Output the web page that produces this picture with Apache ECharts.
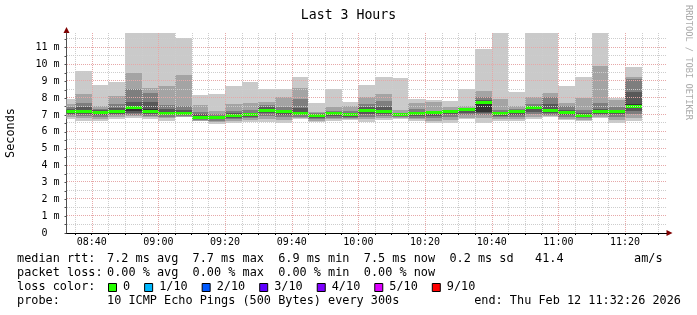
<!DOCTYPE html>
<html><head><meta charset="utf-8">
<script src="https://cdn.jsdelivr.net/npm/echarts@6/dist/echarts.min.js"></script>
<style>html,body{margin:0;padding:0;background:#fff}#c{width:697px;height:315px}</style>
</head><body><div id="c"></div>
<script>
// ---- data ----
const rangeStart = '08:32:26';
const rangeEnd = '11:32:26';
const slotStarts = ['08:30','08:35','08:40','08:45','08:50','08:55','09:00','09:05','09:10','09:15','09:20','09:25','09:30','09:35','09:40','09:45','09:50','09:55','10:00','10:05','10:10','10:15','10:20','10:25','10:30','10:35','10:40','10:45','10:50','10:55','11:00','11:05','11:10','11:15','11:20'];
// sorted ping RTTs per 5-min slot (ms)
const ping10 = [7.98,9.62,8.79,8.99,12.40,12.40,12.40,11.56,8.18,8.26,8.73,8.99,8.56,8.56,9.27,7.73,8.56,7.79,8.79,9.27,9.21,7.96,7.90,7.83,8.56,10.92,12.40,8.38,12.40,12.40,8.73,9.27,12.40,8.02,9.86];
const ping9  = [7.67,8.27,7.51,8.14,9.52,8.60,8.73,9.39,7.61,7.25,7.67,7.73,7.79,8.08,8.62,7.17,7.49,7.55,8.08,8.26,7.31,7.71,7.75,7.45,7.55,8.40,7.96,7.55,8.08,8.32,7.73,8.04,9.94,7.90,9.25];
const ping8  = [7.47,7.73,7.38,7.67,8.56,8.30,7.61,7.51,7.20,7.05,7.25,7.30,7.61,7.45,7.96,7.10,7.25,7.25,7.67,7.81,7.15,7.33,7.25,7.30,7.40,8.10,7.30,7.35,7.65,8.06,7.51,7.30,7.73,7.49,9.15];
const ping7  = [7.35,7.47,7.30,7.42,7.80,7.79,7.35,7.30,7.05,6.97,7.12,7.15,7.45,7.30,7.40,7.06,7.17,7.10,7.45,7.45,7.10,7.20,7.18,7.26,7.35,7.90,7.18,7.27,7.55,7.65,7.30,7.10,7.35,7.32,8.38];
const ping6  = [7.28,7.30,7.24,7.31,7.52,7.35,7.20,7.18,6.95,6.92,7.05,7.08,7.35,7.25,7.20,7.03,7.13,7.05,7.32,7.30,7.08,7.12,7.16,7.24,7.33,7.78,7.12,7.23,7.50,7.35,7.18,7.03,7.25,7.27,7.65];
const ping5  = [7.14,7.12,7.08,7.16,7.25,7.12,7.05,7.03,6.80,6.80,6.93,6.97,7.20,7.12,7.05,6.93,7.02,6.95,7.18,7.15,7.00,7.00,7.05,7.15,7.22,7.20,7.03,7.10,7.35,7.18,7.07,6.93,7.12,7.15,7.40];
const ping4  = [7.06,7.05,7.00,7.08,7.12,7.05,6.98,6.98,6.75,6.74,6.85,6.90,7.10,7.02,6.98,6.85,6.95,6.90,7.05,7.05,6.95,6.93,6.95,7.05,7.10,7.14,6.96,7.00,7.20,7.10,7.00,6.87,7.05,7.05,7.25];
const ping3  = [6.98,6.95,6.90,6.98,7.02,6.96,6.90,6.94,6.70,6.66,6.75,6.80,6.95,6.90,6.90,6.76,6.85,6.82,6.90,6.95,6.88,6.85,6.80,6.90,6.98,6.98,6.88,6.90,7.05,7.02,6.90,6.80,6.98,6.90,7.05];
const ping2  = [6.88,6.82,6.78,6.88,6.92,6.86,6.80,6.90,6.66,6.56,6.62,6.68,6.75,6.70,6.82,6.66,6.75,6.74,6.75,6.82,6.80,6.75,6.65,6.72,6.85,6.85,6.78,6.75,6.90,6.95,6.78,6.72,6.90,6.70,6.85];
const ping1  = [6.74,6.65,6.62,6.76,6.83,6.74,6.66,6.86,6.62,6.48,6.50,6.58,6.56,6.50,6.76,6.58,6.66,6.68,6.60,6.72,6.78,6.66,6.50,6.54,6.74,6.55,6.64,6.62,6.74,6.88,6.68,6.64,6.82,6.54,6.66];
const medianRtt = [7.21,7.22,7.17,7.24,7.44,7.22,7.12,7.10,6.87,6.86,7.00,7.03,7.29,7.20,7.12,7.00,7.10,7.01,7.25,7.23,7.06,7.08,7.14,7.22,7.31,7.74,7.10,7.20,7.46,7.25,7.14,6.99,7.20,7.23,7.53];
const yTickValues = [0,1,2,3,4,5,6,7,8,9,10,11];
const xTickLabels = ['08:40','09:00','09:20','09:40','10:00','10:20','10:40','11:00','11:20'];
const lossLabels = ['0','1/10','2/10','3/10','4/10','5/10','9/10'];
const lossColors = ['#26ff00','#00b8ff','#0059ff','#5e00ff','#7e00ff','#dd00ff','#ff0000'];

// ---- helpers ----
const toSec = s => { const p = s.split(':').map(Number); return p[0]*3600 + p[1]*60 + (p[2]||0); };
const pad = n => String(n).padStart(2,'0');
const fmtHM = v => pad(Math.floor(v/3600)) + ':' + pad(Math.floor((v%3600)/60));
const tMin = toSec(rangeStart), tMax = toSec(rangeEnd);
const STEP = 300, YMAX = 11.87;
const FONT = '"DejaVu Sans Mono"';
const shades = ['#cacaca','#a4a4a4','#7e7e7e','#585858','#323232'];
const pings = [ping1,ping2,ping3,ping4,ping5,ping6,ping7,ping8,ping9,ping10];

const smokeData = [];
const medData = [];
slotStarts.forEach((s,i) => {
  const t0 = toSec(s), t1 = t0 + STEP;
  for (let k = 0; k < 5; k++) smokeData.push([t0, t1, pings[k][i], pings[9-k][i], k]);
  medData.push([t0, t1, medianRtt[i]]);
});
const gridData = [];
for (let t = Math.ceil(tMin/STEP)*STEP; t < tMax; t += STEP) gridData.push([0, t, t % 1200 === 0 ? 1 : 0]);
for (let v = 0.5; v < YMAX; v += 0.5) gridData.push([1, v, Number.isInteger(v) ? 1 : 0]);
const yMinorTicks = gridData.filter(d => d[0] === 1).map(d => d[1]).concat([0]);
const xMinorTicks = gridData.filter(d => d[0] === 0).map(d => d[1]);

function clipBox(x1, y1, x2, y2, cs) {
  return echarts.graphic.clipRectByRect(
    {x: Math.min(x1,x2), y: Math.min(y1,y2), width: Math.abs(x2-x1), height: Math.abs(y2-y1)},
    {x: cs.x, y: cs.y, width: cs.width, height: cs.height});
}
function smokeRender(params, api) {
  const a = api.coord([api.value(0), api.value(3)]);
  const b = api.coord([api.value(1), api.value(2)]);
  const shape = clipBox(Math.round(a[0]), Math.round(a[1]), Math.round(b[0]), Math.round(b[1]), params.coordSys);
  return shape && {type: 'rect', shape, style: {fill: shades[api.value(4)]}};
}
function medRender(params, api) {
  const a = api.coord([api.value(0), api.value(2)]);
  const b = api.coord([api.value(1), api.value(2)]);
  const y = Math.round(a[1] - 1.5);
  const shape = clipBox(Math.round(a[0]), y, Math.round(b[0]), y + 3, params.coordSys);
  return shape && {type: 'rect', shape, style: {fill: '#26ff00'}};
}
function gridRender(params, api) {
  const cs = params.coordSys;
  const o = api.value(0), v = api.value(1), major = api.value(2);
  let shape;
  if (o === 0) {
    const x = Math.round(api.coord([v, 0])[0]) + 0.5;
    shape = {x1: x, y1: Math.round(cs.y), x2: x, y2: Math.round(cs.y + cs.height)};
  } else {
    const y = Math.round(api.coord([tMin, v])[1]) - 0.5;
    shape = {x1: Math.round(cs.x), y1: y, x2: Math.round(cs.x + cs.width), y2: y};
  }
  return {type: 'line', shape, style: {stroke: major ? '#e6a8a8' : '#cdcdcd', lineWidth: 1, lineDash: [1, 1]}};
}

// legend graphics
const LF = 11.85;
const charW = LF * 0.602;
const gtext = (text, x, y, extra) => Object.assign({type: 'text', x, y, silent: true,
  style: {text, font: LF + 'px ' + FONT, fill: '#000', align: 'left', verticalAlign: 'middle', textAlign: 'left', textVerticalAlign: 'middle'}}, extra || {});
const graphics = [
  gtext('median rtt:', 17, 259), gtext('7.2 ms avg', 107, 259), gtext('7.7 ms max', 192.6, 259),
  gtext('6.9 ms min', 278.2, 259), gtext('7.5 ms now', 363.8, 259), gtext('0.2 ms sd', 449.4, 259),
  gtext('41.4', 535, 259), gtext('am/s', 634, 259),
  gtext('packet loss:', 17, 273), gtext('0.00 % avg', 107, 273), gtext('0.00 % max', 192.6, 273),
  gtext('0.00 % min', 278.2, 273), gtext('0.00 % now', 363.8, 273),
  gtext('loss color:', 17, 287),
  gtext('probe:', 17, 301), gtext('10 ICMP Echo Pings (500 Bytes) every 300s', 107, 301),
  {type: 'text', x: 681, y: 301, silent: true, style: {text: 'end: Thu Feb 12 11:32:26 2026', font: LF + 'px ' + FONT, fill: '#000', align: 'right', verticalAlign: 'middle', textAlign: 'right', textVerticalAlign: 'middle'}},
  {type: 'text', x: 688, y: 5, rotation: -Math.PI/2, silent: true, style: {text: 'RRDTOOL / TOBI OETIKER', font: '8.7px ' + FONT, fill: '#aaaaaa', align: 'left', verticalAlign: 'middle', textAlign: 'left', textVerticalAlign: 'middle'}}
];
let bx = 108;
lossLabels.forEach((lab, i) => {
  graphics.push({type: 'rect', silent: true, shape: {x: bx + 0.5, y: 283.5, width: 8, height: 8}, style: {fill: lossColors[i], stroke: '#000', lineWidth: 1}});
  graphics.push(gtext(lab, bx + 15, 287));
  bx += 15 + lab.length * charW + 14;
});

const chart = echarts.init(document.getElementById('c'), null, {renderer: 'canvas'});
chart.setOption({
  animation: false,
  backgroundColor: '#fff',
  title: {text: 'Last 3 Hours', left: 'center', top: 4, textStyle: {fontFamily: FONT, fontSize: 13.2, fontWeight: 'normal', color: '#000'}},
  grid: {left: 66.5, top: 33, width: 600, height: 200, containLabel: false, outerBoundsMode: 'none'},
  xAxis: [
    {type: 'value', min: tMin, max: tMax, position: 'bottom', z: 1,
     axisLine: {show: true, onZero: false, lineStyle: {color: '#000', width: 1}},
     axisTick: {show: true, length: 2, inside: false, customValues: xMinorTicks, lineStyle: {color: '#000'}},
     axisLabel: {show: true, customValues: xTickLabels.map(toSec), formatter: v => fmtHM(v), margin: 4,
                 fontFamily: FONT, fontSize: 10, color: '#000'},
     splitLine: {show: false}},
    {type: 'value', min: tMin, max: tMax, position: 'bottom', z: 0,
     axisLine: {show: true, onZero: false, symbol: ['none','triangle'], symbolSize: [6,6], symbolOffset: [0,3], lineStyle: {color: '#800000'}},
     axisTick: {show: false}, axisLabel: {show: false}, splitLine: {show: false}}
  ],
  yAxis: [
    {type: 'value', min: 0, max: YMAX, position: 'left', z: 1,
     name: 'Seconds', nameLocation: 'middle', nameGap: 50, nameRotate: 90,
     nameTextStyle: {fontFamily: FONT, fontSize: LF, color: '#000'},
     axisLine: {show: true, onZero: false, lineStyle: {color: '#505050', width: 1}},
     axisTick: {show: true, length: 2, customValues: yMinorTicks, lineStyle: {color: '#505050'}},
     axisLabel: {show: true, customValues: yTickValues, margin: 7, formatter: v => v === 0 ? '0  ' : v + ' m',
                 fontFamily: FONT, fontSize: 10, color: '#000'},
     splitLine: {show: false}},
    {type: 'value', min: 0, max: YMAX, position: 'left', offset: 0, z: 0,
     axisLine: {show: true, onZero: false, symbol: ['none','triangle'], symbolSize: [6,6], symbolOffset: [0,3], lineStyle: {color: '#800000'}},
     axisTick: {show: false}, axisLabel: {show: false}, splitLine: {show: false}}
  ],
  series: [
    {type: 'custom', name: 'smoke', silent: true, z: 2, renderItem: smokeRender, data: smokeData, encode: {x: [0,1], y: [2,3]}},
    {type: 'custom', name: 'median', silent: true, z: 3, renderItem: medRender, data: medData, encode: {x: [0,1], y: 2}},
    {type: 'custom', name: 'grid', silent: true, z: 4, renderItem: gridRender, data: gridData, encode: {x: 1, y: 1}}
  ],
  graphic: graphics
});
</script>
</body></html>
